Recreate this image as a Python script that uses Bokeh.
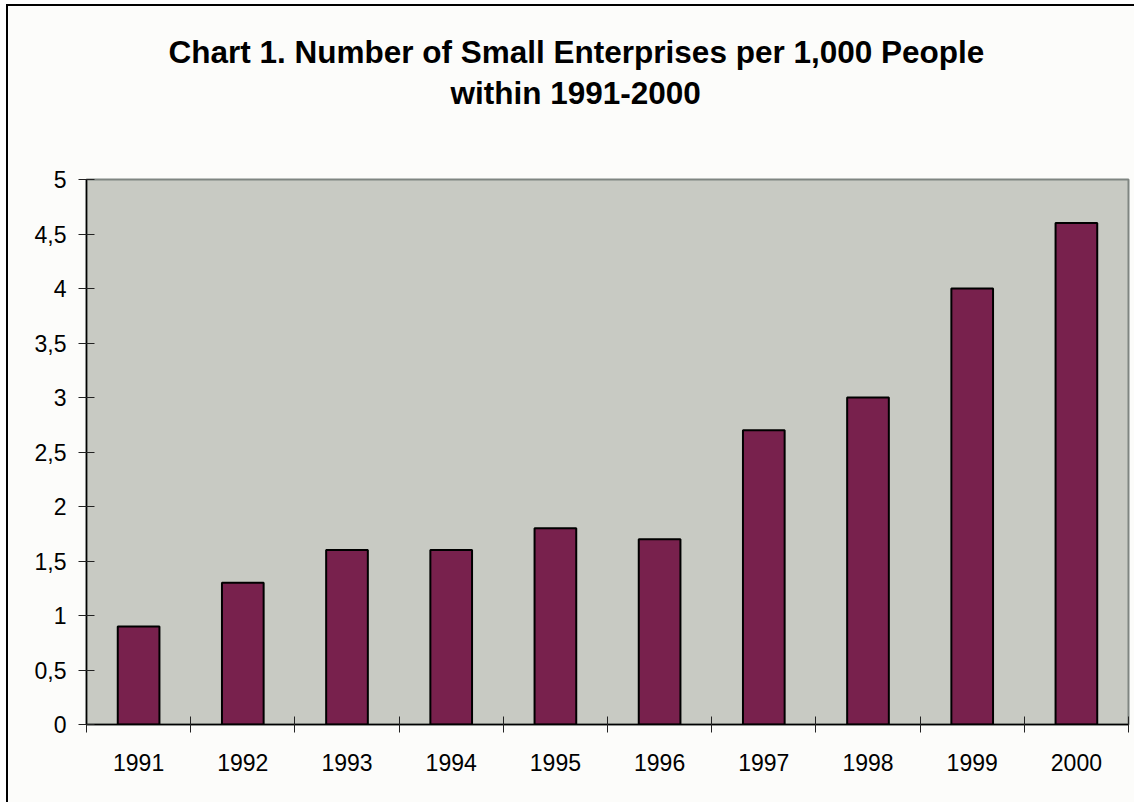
from bokeh.plotting import figure
from bokeh.models import ColumnDataSource, FixedTicker, Title, Range1d, LinearAxis
from bokeh.embed import file_html
from bokeh.resources import INLINE

years = ["1991", "1992", "1993", "1994", "1995", "1996", "1997", "1998", "1999", "2000"]
values = [0.9, 1.3, 1.6, 1.6, 1.8, 1.7, 2.7, 3.0, 4.0, 4.6]
y_ticks = [0, 0.5, 1, 1.5, 2, 2.5, 3, 3.5, 4, 4.5, 5]
y_tick_labels = ["0", "0,5", "1", "1,5", "2", "2,5", "3", "3,5", "4", "4,5", "5"]
title_lines = ["Chart 1. Number of Small Enterprises per 1,000 People", "within 1991-2000"]

FONT = "Liberation Sans"

xs = [i + 0.5 for i in range(len(years))]
src = ColumnDataSource(dict(x=xs, top=values, year=years))

p = figure(width=1128, height=798, output_backend="svg", toolbar_location=None,
           x_range=Range1d(0, len(years)), y_range=Range1d(0, 5),
           min_border_left=78, min_border_right=8, min_border_top=173, min_border_bottom=80,
           background_fill_color="#C8CAC3", border_fill_color="#FCFCFA",
           styles={"border-left": "2px solid #000", "border-top": "2px solid #000",
                   "margin-left": "6px", "margin-top": "4px"})
p.title.visible = False
p.outline_line_color = "#7F8581"
p.outline_line_width = 2
p.xgrid.visible = False
p.ygrid.visible = False

p.vbar(x="x", top="top", bottom=0, width=0.4, source=src,
       fill_color="#78214D", line_color="#000000", line_width=2)

# x axis: labels at category centres, tick marks at category boundaries
p.xaxis.ticker = FixedTicker(ticks=xs, minor_ticks=list(range(len(years) + 1)))
p.xaxis.major_label_overrides = {x: y for x, y in zip(xs, years)}
p.xaxis.major_tick_in = 0
p.xaxis.major_tick_out = 0
p.xaxis.minor_tick_in = 8
p.xaxis.minor_tick_out = 8
p.xaxis.minor_tick_line_color = "#222222"
p.xaxis.axis_line_color = "#000000"
p.xaxis.axis_line_width = 1.5
p.xaxis.major_label_standoff = 21
p.xaxis.major_label_text_font = FONT
p.xaxis.major_label_text_font_size = "23px"
p.xaxis.major_label_text_color = "#000000"

p.yaxis.ticker = FixedTicker(ticks=y_ticks, minor_ticks=[])
p.yaxis.major_label_overrides = {t: s for t, s in zip(y_ticks, y_tick_labels)}
p.yaxis.major_tick_in = 8
p.yaxis.major_tick_out = 8
p.yaxis.major_tick_line_color = "#222222"
p.yaxis.axis_line_color = "#000000"
p.yaxis.axis_line_width = 1.5
p.yaxis.major_label_standoff = 12
p.yaxis.major_label_text_font = FONT
p.yaxis.major_label_text_font_size = "23px"
p.yaxis.major_label_text_color = "#000000"

# invisible spacer between the frame and the title lines
spacer = LinearAxis(ticker=FixedTicker(ticks=[0], minor_ticks=[]),
                    major_label_overrides={0: ""},
                    axis_line_color=None, major_tick_line_color=None,
                    minor_tick_line_color=None, major_tick_in=0, major_tick_out=68,
                    minor_tick_out=0, major_label_standoff=0, axis_label_standoff=0,
                    major_label_text_font_size="1px")
p.add_layout(spacer, "above")

# title lines: second line added first so it sits nearer the frame
p.add_layout(Title(text=title_lines[1], align="left", offset=364, standoff=2,
                   text_font=FONT, text_font_style="bold", text_font_size="31.5px",
                   text_color="#000000"), "above")
p.add_layout(Title(text=title_lines[0], align="left", offset=82, standoff=4,
                   text_font=FONT, text_font_style="bold", text_font_size="31.5px",
                   text_color="#000000"), "above")

open("out.html", "w").write(file_html(p, INLINE))
